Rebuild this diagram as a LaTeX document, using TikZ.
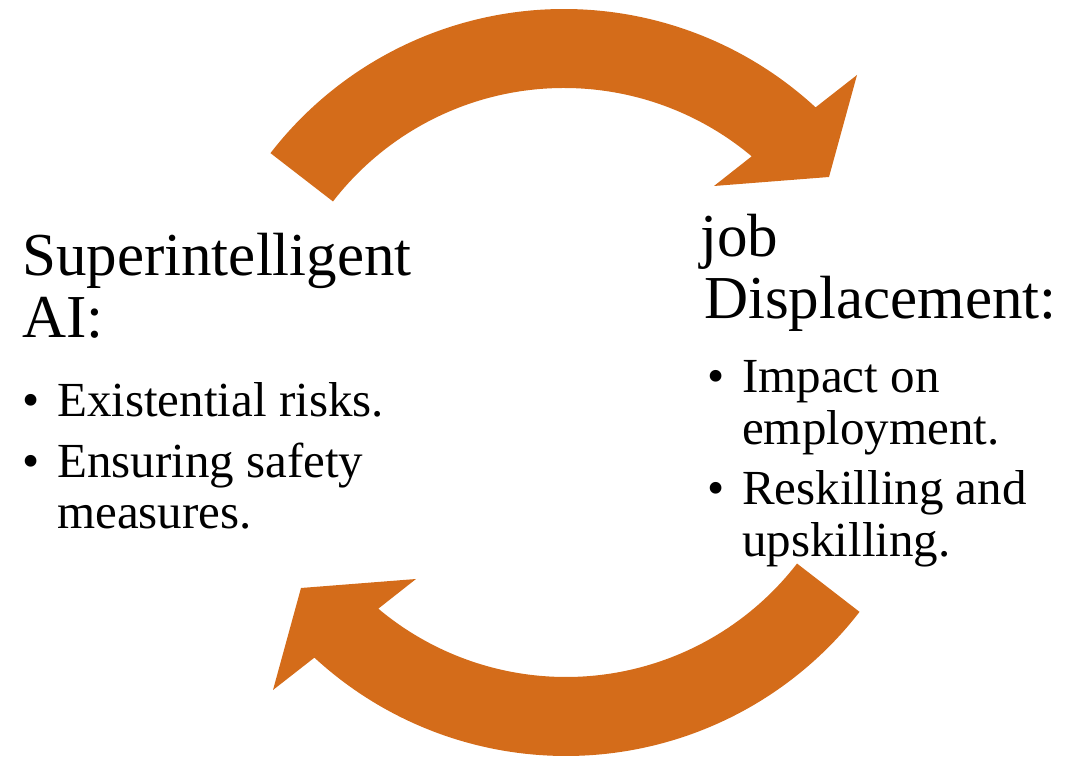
\documentclass[tikz,border=0pt]{standalone}
\usepackage{fontspec}
\setmainfont{Liberation Serif}
\definecolor{arroworange}{RGB}{212,108,26}
\newcommand\myTitleSize{\fontsize{61}{62}\selectfont}
\newcommand\myItemSize{\fontsize{49}{50}\selectfont}
\tikzset{
  cyclearrow/.pic={
    \fill[arroworange] (142.3:371) arc[start angle=142.3,end angle=47.3,radius=371]
      -- (293,305) -- (265,203) -- (150,194) -- (50:292)
      arc[start angle=50,end angle=142.3,radius=292] -- cycle;
  },
  headtext/.style={anchor=base west,inner sep=0pt,font=\myTitleSize},
  itemtext/.style={anchor=base west,inner sep=0pt,font=\myItemSize},
}
\begin{document}
\begin{tikzpicture}[x=1pt,y=1pt]
\useasboundingbox (0,0) rectangle (1066,760);
\pic at (564,380) {cyclearrow};
\pic[rotate=180] at (566,375) {cyclearrow};
% left block
\node[headtext] (l1) at (22,484) {Superintelligent};
\node[headtext] (l2) at (22,422) {AI:};
\node[itemtext] (lb1) at (22,343) {\textbullet};
\node[itemtext] (li1) at (57,343) {Existential risks.};
\node[itemtext] (lb2) at (22,282) {\textbullet};
\node[itemtext] (li2) at (57,282) {Ensuring safety};
\node[itemtext] (li3) at (57,231) {measures.};
% right block
\node[headtext] (r1) at (700,503) {job};
\node[headtext] (r2) at (704,441) {Displacement:};
\node[itemtext] (rb1) at (707,367) {\textbullet};
\node[itemtext] (ri1) at (742,367) {Impact on};
\node[itemtext] (ri2) at (742,315) {employment.};
\node[itemtext] (rb2) at (707,255) {\textbullet};
\node[itemtext] (ri3) at (742,255) {Reskilling and};
\node[itemtext] (ri4) at (742,203) {upskilling.};
\end{tikzpicture}
\end{document}
